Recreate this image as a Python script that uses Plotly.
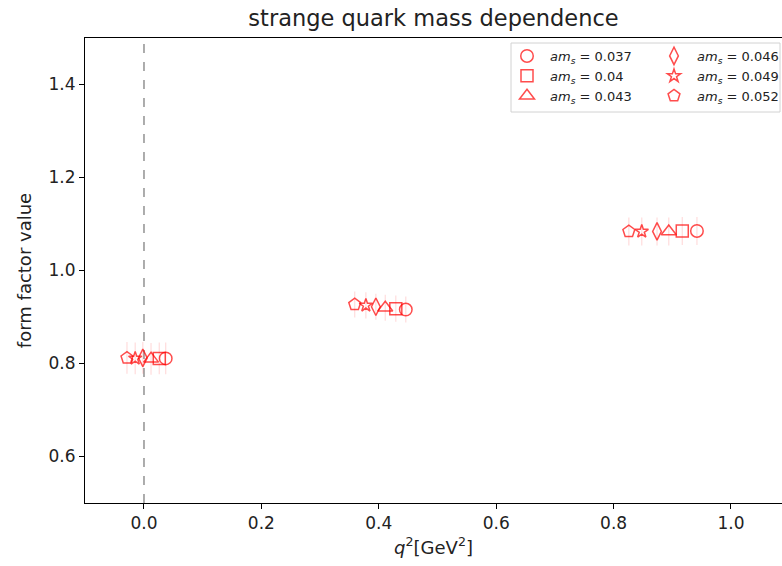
import plotly.graph_objects as go

# ---- data ----
series_labels = ["0.037", "0.04", "0.043", "0.046", "0.049", "0.052"]
symbols = ["circle-open", "square-open", "triangle-up-open",
           "diamond-tall-open", "star-open", "pentagon-open"]
q2_037 = [0.037, 0.446, 0.942]
q2_040 = [0.026, 0.429, 0.917]
q2_043 = [0.012, 0.411, 0.894]
q2_046 = [-0.002, 0.395, 0.874]
q2_049 = [-0.015, 0.378, 0.848]
q2_052 = [-0.029, 0.359, 0.826]
ff_037 = [0.811, 0.916, 1.085]
ff_040 = [0.811, 0.918, 1.085]
ff_043 = [0.810, 0.920, 1.084]
ff_046 = [0.812, 0.922, 1.084]
ff_049 = [0.811, 0.925, 1.084]
ff_052 = [0.812, 0.927, 1.084]
err_037 = [0.034, 0.028, 0.030]
err_040 = [0.034, 0.028, 0.030]
err_043 = [0.034, 0.028, 0.030]
err_046 = [0.034, 0.028, 0.030]
err_049 = [0.034, 0.028, 0.030]
err_052 = [0.034, 0.028, 0.030]

q2_all = [q2_037, q2_040, q2_043, q2_046, q2_049, q2_052]
ff_all = [ff_037, ff_040, ff_043, ff_046, ff_049, ff_052]
err_all = [err_037, err_040, err_043, err_046, err_049, err_052]
marker_sizes = [12.5, 12, 13, 12.5, 10, 12.5]

FONT = "DejaVu Sans"
MK = "rgba(255,0,0,0.7)"
EB = "rgba(255,0,0,0.14)"

fig = go.Figure()
for i, lab in enumerate(series_labels):
    fig.add_trace(go.Scatter(
        x=q2_all[i], y=ff_all[i], mode="markers",
        name=f"<i>am</i><sub><i>s</i></sub> = {lab}",
        marker=dict(symbol=symbols[i], size=marker_sizes[i], color=MK,
                    line=dict(width=1.5, color=MK)),
        error_y=dict(type="data", array=err_all[i], visible=True,
                     color=EB, thickness=1.2, width=0),
        legend="legend" if i < 3 else "legend2",
    ))

W, H = 782, 566
L, R, T, B = 85, 0, 38, 63
pw, ph = W - L - R, H - T - B

def px(xp):
    return (xp - L) / pw

def py(yp):
    return (H - B - yp) / ph

fig.add_shape(type="line", xref="x", yref="paper", x0=0, x1=0, y0=0, y1=1,
              line=dict(color="rgb(128,128,128)", width=1.3, dash="dash"),
              layer="below")
fig.add_shape(type="rect", xref="paper", yref="paper",
              x0=px(511), x1=px(780), y0=py(112), y1=py(43),
              line=dict(color="rgb(210,210,210)", width=1),
              fillcolor="rgba(255,255,255,0.8)", layer="above")

legfont = dict(family=FONT, size=13, color="#222")
fig.update_layout(
    width=W, height=H,
    margin=dict(l=L, r=R, t=T, b=B, autoexpand=False),
    paper_bgcolor="white", plot_bgcolor="white",
    font=dict(family=FONT, color="#222"),
    title=dict(text="strange quark mass dependence", x=0.5, xref="paper",
               xanchor="center", y=1 - 18 / H, yanchor="middle",
               font=dict(family=FONT, size=22.5, color="#222")),
    xaxis=dict(range=[-0.1005, 1.0869], tick0=0, dtick=0.2, tickformat=".1f",
               showgrid=False, zeroline=False, showline=True, linecolor="black",
               linewidth=1, mirror=True, ticks="outside", ticklen=5,
               tickcolor="black", tickfont=dict(family=FONT, size=17, color="#222"),
               title=dict(text="<i>q</i><sup>2</sup>[GeV<sup>2</sup>]",
                          font=dict(family=FONT, size=18, color="#222"),
                          standoff=8)),
    yaxis=dict(range=[0.5, 1.5], tick0=0, dtick=0.2, tickformat=".1f",
               showgrid=False, zeroline=False, showline=True, linecolor="black",
               linewidth=1, ticks="outside", ticklen=5, tickcolor="black",
               tickfont=dict(family=FONT, size=17, color="#222"),
               title=dict(text="form factor value",
                          font=dict(family=FONT, size=18, color="#222"),
                          standoff=12)),
    legend=dict(x=px(504), y=py(41), xanchor="left", yanchor="top",
                bgcolor="rgba(0,0,0,0)", font=legfont, tracegroupgap=0,
                itemwidth=36),
    legend2=dict(x=px(651), y=py(41), xanchor="left", yanchor="top",
                 bgcolor="rgba(0,0,0,0)", font=legfont, tracegroupgap=0,
                 itemwidth=36),
    showlegend=True,
)

fig.write_html("out.html")
